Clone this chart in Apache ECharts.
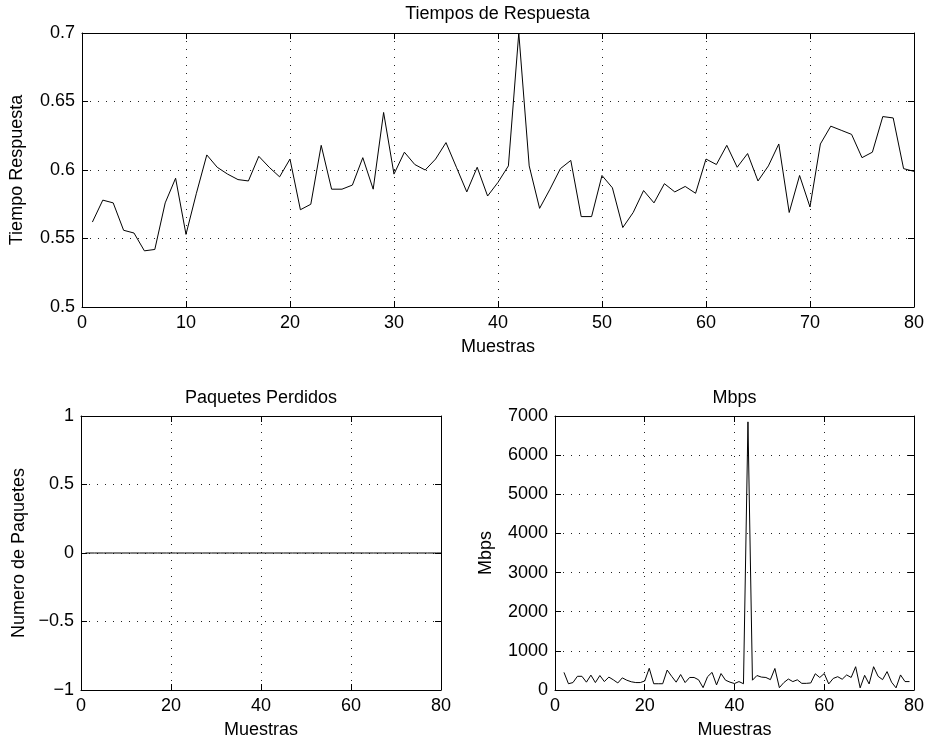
<!DOCTYPE html>
<html>
<head>
<meta charset="utf-8">
<script src="https://cdn.jsdelivr.net/npm/echarts@6/dist/echarts.min.js"></script>
<style>
html,body{margin:0;padding:0;background:#fff;}
#chart{width:927px;height:740px;}
</style>
</head>
<body>
<div id="chart"></div>
<script>
// ---- data ----
const tiempoRespuesta = [
  0.562, 0.578, 0.576, 0.556, 0.554, 0.541, 0.542, 0.576, 0.594, 0.553,
  0.583, 0.611, 0.602, 0.597, 0.593, 0.592, 0.610, 0.602, 0.595, 0.608,
  0.571, 0.575, 0.618, 0.586, 0.586, 0.589, 0.609, 0.586, 0.642, 0.597,
  0.613, 0.604, 0.600, 0.608, 0.620, 0.602, 0.584, 0.602, 0.581, 0.591,
  0.603, 0.700, 0.603, 0.572, 0.586, 0.601, 0.607, 0.566, 0.566, 0.596,
  0.587, 0.558, 0.569, 0.585, 0.576, 0.590, 0.584, 0.588, 0.583, 0.608,
  0.604, 0.618, 0.602, 0.612, 0.592, 0.603, 0.619, 0.569, 0.596, 0.573,
  0.619, 0.632, 0.629, 0.626, 0.609, 0.613, 0.639, 0.638, 0.601, 0.599
];
const tiempoStart = 1;

const paquetesPerdidos = [
  0,0,0,0,0,0,0,0,0,0, 0,0,0,0,0,0,0,0,0,0,
  0,0,0,0,0,0,0,0,0,0, 0,0,0,0,0,0,0,0,0,0,
  0,0,0,0,0,0,0,0,0,0, 0,0,0,0,0,0,0,0,0,0,
  0,0,0,0,0,0,0,0,0,0, 0,0,0,0,0,0,0,0,0,0
];
const paquetesStart = 1;

const mbps = [
  450, 160, 190, 350, 350, 200, 380, 190, 370,
  215, 330, 260, 180, 310, 250, 210, 190, 190, 230,
  555, 160, 160, 160, 510, 350, 200, 395, 190, 320,
  320, 260, 60, 340, 450, 130, 420, 250, 200, 165,
  215, 160, 6850, 250, 370, 330, 320, 265, 550, 60,
  190, 280, 215, 260, 170, 170, 180, 415, 320, 420,
  155, 295, 340, 275, 385, 320, 595, 55, 375, 155,
  595, 350, 265, 470, 200, 55, 385, 215, 215
];
const mbpsStart = 2;

const titles = ['Tiempos de Respuesta', 'Paquetes Perdidos', 'Mbps'];
const xName = 'Muestras';
const yNames = ['Tiempo Respuesta', 'Numero de Paquetes', 'Mbps'];

// ---- chart ----
const FONT = "'Liberation Sans', Arial, Helvetica, sans-serif";
const FS = 18;
const fmt = v => String(v).replace('-', '\u2212');

const grids = [
  {left: 81, top: 33, width: 833, height: 274},
  {left: 81, top: 416, width: 360, height: 274},
  {left: 555, top: 416, width: 359, height: 274}
];
const xCfg = [{min:0,max:80,interval:10},{min:0,max:80,interval:20},{min:0,max:80,interval:20}];
const yCfg = [{min:0.5,max:0.7,interval:0.05},{min:-1,max:1,interval:0.5},{min:0,max:7000,interval:1000}];
const yGaps = [56, 53, 60];

const grid = [], xAxis = [], yAxis = [];
const dotted = {show:true, lineStyle:{color:'#222', width:1, type:[1,7]}};
grids.forEach((g, i) => {
  grid.push(Object.assign({containLabel:false}, g));
  xAxis.push(Object.assign({
    type:'value', gridIndex:i, position:'bottom',
    name: xName, nameLocation:'middle', nameGap: 31,
    nameTextStyle:{fontFamily:FONT, fontSize:FS, color:'#000'},
    axisLine:{show:true, onZero:false, lineStyle:{color:'#000', width:1}},
    axisTick:{show:true, inside:true, length:6, lineStyle:{color:'#000'}},
    axisLabel:{show:true, margin:7, fontFamily:FONT, fontSize:FS, color:'#000', formatter:fmt},
    splitLine: dotted
  }, xCfg[i]));
  xAxis.push(Object.assign({
    type:'value', gridIndex:i, position:'top',
    axisLine:{show:true, onZero:false, lineStyle:{color:'#000', width:1}},
    axisTick:{show:true, inside:true, length:6, lineStyle:{color:'#000'}},
    axisLabel:{show:false}, splitLine:{show:false}
  }, xCfg[i]));
  yAxis.push(Object.assign({
    type:'value', gridIndex:i, position:'left',
    name: yNames[i], nameLocation:'middle', nameGap: yGaps[i], nameRotate: 90,
    nameTextStyle:{fontFamily:FONT, fontSize:FS, color:'#000'},
    axisLine:{show:true, onZero:false, lineStyle:{color:'#000', width:1}},
    axisTick:{show:true, inside:true, length:6, lineStyle:{color:'#000'}},
    axisLabel:{show:true, margin:7, fontFamily:FONT, fontSize:FS, color:'#000', formatter:fmt},
    splitLine: dotted
  }, yCfg[i]));
  yAxis.push(Object.assign({
    type:'value', gridIndex:i, position:'right',
    axisLine:{show:true, onZero:false, lineStyle:{color:'#000', width:1}},
    axisTick:{show:true, inside:true, length:6, lineStyle:{color:'#000'}},
    axisLabel:{show:false}, splitLine:{show:false}
  }, yCfg[i]));
});

const title = [
  {text: titles[0], left: 497.5, top: 5},
  {text: titles[1], left: 261, top: 389},
  {text: titles[2], left: 734.5, top: 389}
].map(t => Object.assign(t, {textAlign:'center', padding:0,
  textStyle:{fontFamily:FONT, fontSize:FS, fontWeight:'normal', color:'#000'}}));

const lineStyle = {color:'#000', width:1};
const series = [
  {type:'line', xAxisIndex:0, yAxisIndex:0, showSymbol:false, symbol:'none', lineStyle, animation:false,
   data: tiempoRespuesta.map((v,i)=>[i+tiempoStart, v])},
  {type:'line', xAxisIndex:2, yAxisIndex:2, showSymbol:false, symbol:'none', lineStyle, animation:false,
   data: paquetesPerdidos.map((v,i)=>[i+paquetesStart, v])},
  {type:'line', xAxisIndex:4, yAxisIndex:4, showSymbol:false, symbol:'none', lineStyle, animation:false,
   data: mbps.map((v,i)=>[i+mbpsStart, v])}
];

const chart = echarts.init(document.getElementById('chart'), null, {renderer:'canvas'});
chart.setOption({backgroundColor:'#fff', animation:false, title, grid, xAxis, yAxis, series});
</script>
</body>
</html>
